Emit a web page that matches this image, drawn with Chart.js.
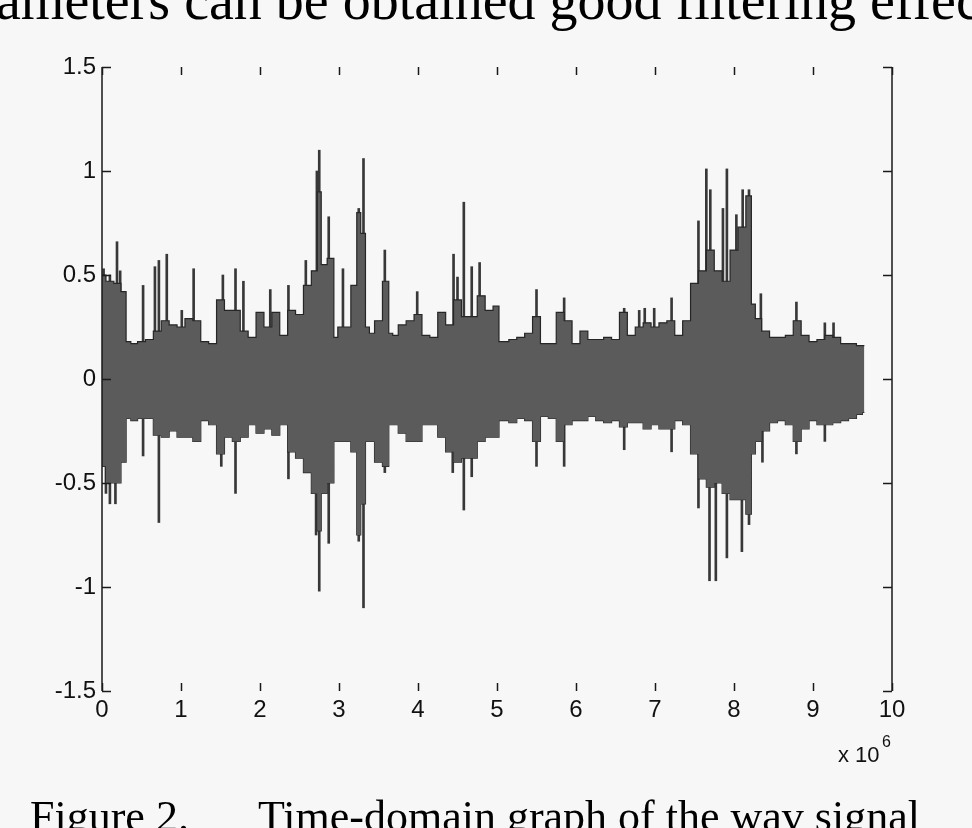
<!DOCTYPE html>
<html>
<head>
<meta charset="utf-8">
<title>Time-domain graph of the wav signal</title>
<script src="https://cdn.jsdelivr.net/npm/chart.js@4/dist/chart.umd.min.js"></script>
<style>
  html, body { margin: 0; padding: 0; background: #f7f7f7; }
  #wrap { position: relative; width: 972px; height: 828px; overflow: hidden; }
</style>
</head>
<body>
<div id="wrap"><canvas id="wave" width="972" height="828"></canvas></div>
<script>
// sample index in units of 10^6
const envX = [0, 0.1, 0.2, 0.28, 0.33, 0.4, 0.5, 0.6, 0.7, 0.8, 0.9, 1.0, 1.1, 1.2, 1.3, 1.4, 1.5, 1.6, 1.7, 1.8,
  1.9, 2.0, 2.1, 2.2, 2.3, 2.4, 2.5, 2.6, 2.7, 2.75, 2.8, 2.9, 2.97, 3.0, 3.1, 3.2, 3.25, 3.3, 3.37, 3.4,
  3.5, 3.6, 3.66, 3.7, 3.8, 3.9, 4.0, 4.1, 4.2, 4.3, 4.4, 4.5, 4.6, 4.7, 4.8, 4.9, 5.0, 5.05, 5.1, 5.2,
  5.3, 5.4, 5.5, 5.6, 5.7, 5.8, 5.9, 6.0, 6.1, 6.2, 6.3, 6.4, 6.5, 6.6, 6.7, 6.8, 6.9, 7.0, 7.1, 7.2,
  7.3, 7.4, 7.5, 7.6, 7.7, 7.8, 7.9, 8.0, 8.1, 8.2, 8.24, 8.3, 8.4, 8.5, 8.6, 8.7, 8.8, 8.9, 9.0, 9.1,
  9.2, 9.3, 9.4, 9.5, 9.6, 9.65];

// upper and lower edge of the dense signal body
const envUpper = [0.50, 0.47, 0.46, 0.42, 0.18, 0.17, 0.18, 0.19, 0.23, 0.28, 0.26, 0.25, 0.29, 0.28, 0.18, 0.17, 0.38, 0.33, 0.33, 0.23,
  0.20, 0.32, 0.25, 0.32, 0.21, 0.33, 0.31, 0.45, 0.52, 0.90, 0.55, 0.58, 0.20, 0.25, 0.25, 0.45, 0.80, 0.70, 0.25, 0.22,
  0.28, 0.47, 0.22, 0.21, 0.26, 0.28, 0.31, 0.21, 0.20, 0.32, 0.26, 0.38, 0.30, 0.30, 0.40, 0.33, 0.35, 0.18, 0.18, 0.19,
  0.20, 0.22, 0.30, 0.17, 0.17, 0.32, 0.28, 0.17, 0.23, 0.19, 0.19, 0.20, 0.19, 0.32, 0.21, 0.25, 0.27, 0.25, 0.27, 0.28,
  0.21, 0.28, 0.46, 0.52, 0.62, 0.52, 0.47, 0.62, 0.73, 0.88, 0.36, 0.29, 0.23, 0.20, 0.20, 0.21, 0.28, 0.21, 0.18, 0.19,
  0.21, 0.20, 0.17, 0.17, 0.16, 0.16];
const envLower = [-0.42, -0.50, -0.50, -0.40, -0.19, -0.20, -0.19, -0.19, -0.27, -0.28, -0.25, -0.28, -0.28, -0.30, -0.20, -0.22, -0.36, -0.28, -0.30, -0.28,
  -0.22, -0.26, -0.24, -0.27, -0.22, -0.35, -0.38, -0.45, -0.55, -0.73, -0.55, -0.50, -0.30, -0.30, -0.30, -0.35, -0.75, -0.60, -0.30, -0.30,
  -0.40, -0.42, -0.22, -0.22, -0.26, -0.30, -0.30, -0.22, -0.22, -0.28, -0.35, -0.40, -0.38, -0.38, -0.30, -0.28, -0.28, -0.20, -0.20, -0.21,
  -0.19, -0.20, -0.30, -0.18, -0.19, -0.30, -0.22, -0.20, -0.20, -0.18, -0.20, -0.21, -0.20, -0.23, -0.21, -0.21, -0.24, -0.22, -0.24, -0.24,
  -0.20, -0.22, -0.36, -0.48, -0.52, -0.50, -0.55, -0.58, -0.58, -0.65, -0.36, -0.30, -0.25, -0.21, -0.20, -0.22, -0.30, -0.24, -0.20, -0.22,
  -0.22, -0.21, -0.20, -0.19, -0.17, -0.16];

// thin peaks sticking out of the body
const upSpikeX = [0.02, 0.10, 0.19, 0.23, 0.52, 0.67, 0.72, 0.82, 1.01, 1.16, 1.53, 1.69, 1.79, 2.13, 2.36, 2.58, 2.72, 2.75, 2.87, 3.05,
  3.25, 3.31, 3.58, 3.99, 4.45, 4.50, 4.58, 4.68, 4.78, 5.50, 5.85, 6.61, 6.80, 6.87, 6.99, 7.21, 7.55, 7.65, 7.70, 7.86,
  7.91, 8.03, 8.11, 8.19, 8.34, 8.79, 9.15, 9.26];
const upSpikeY = [0.53, 0.50, 0.66, 0.52, 0.45, 0.54, 0.57, 0.60, 0.33, 0.53, 0.50, 0.53, 0.47, 0.43, 0.45, 0.57, 1.00, 1.10, 0.78, 0.53,
  0.82, 1.06, 0.62, 0.42, 0.60, 0.49, 0.85, 0.54, 0.56, 0.43, 0.39, 0.34, 0.33, 0.34, 0.34, 0.39, 0.76, 1.01, 0.91, 0.82,
  1.01, 0.79, 0.91, 0.91, 0.41, 0.37, 0.27, 0.27];
const downSpikeX = [0.05, 0.10, 0.17, 0.52, 0.72, 1.51, 1.69, 2.36, 2.71, 2.75, 2.87, 3.25, 3.31, 3.58, 4.44, 4.58, 4.68, 5.50, 5.85, 6.61,
  7.21, 7.55, 7.69, 7.77, 7.91, 8.10, 8.19, 8.36, 8.79, 9.15];
const downSpikeY = [-0.55, -0.60, -0.60, -0.37, -0.69, -0.42, -0.55, -0.48, -0.75, -1.02, -0.79, -0.78, -1.10, -0.45, -0.45, -0.63, -0.47, -0.42, -0.42, -0.34,
  -0.35, -0.62, -0.97, -0.97, -0.86, -0.83, -0.70, -0.40, -0.36, -0.30];

const xTicks = [0, 1, 2, 3, 4, 5, 6, 7, 8, 9, 10];
const xTickLabels = ['0', '1', '2', '3', '4', '5', '6', '7', '8', '9', '10'];
const yTicks = [-1.5, -1, -0.5, 0, 0.5, 1, 1.5];
const yTickLabels = ['-1.5', '-1', '-0.5', '0', '0.5', '1', '1.5'];

const topText = 'ameters can be obtained good filtering effec';
const captionLeft = 'Figure 2.';
const captionRight = 'Time-domain graph of the wav signal';

const bodyColor = '#5b5b5b';
const edgeColor = '#262626';
const tickFont = { family: '"Liberation Sans", Arial, sans-serif', size: 24 };

// MATLAB-style frame: side lines, inward ticks, exponent and the page text
const frame = {
  id: 'frame',
  afterDraw(chart) {
    const { ctx, chartArea: a, scales: { x, y } } = chart;
    ctx.save();
    ctx.strokeStyle = '#1a1a1a';
    ctx.lineWidth = 1.5;
    ctx.beginPath();
    ctx.moveTo(a.left, a.top); ctx.lineTo(a.left, a.bottom);
    ctx.moveTo(a.right, a.top); ctx.lineTo(a.right, a.bottom);
    xTicks.forEach(v => {
      const px = Math.round(x.getPixelForValue(v)) + 0.5;
      ctx.moveTo(px, a.bottom); ctx.lineTo(px, a.bottom - 8);
      ctx.moveTo(px, a.top); ctx.lineTo(px, a.top + 8);
    });
    yTicks.forEach(v => {
      const py = Math.round(y.getPixelForValue(v)) + 0.5;
      ctx.moveTo(a.left, py); ctx.lineTo(a.left + 9, py);
      ctx.moveTo(a.right, py); ctx.lineTo(a.right - 9, py);
    });
    ctx.stroke();

    ctx.fillStyle = '#111';
    ctx.textBaseline = 'alphabetic';
    ctx.textAlign = 'left';
    ctx.font = '22px "Liberation Sans", Arial, sans-serif';
    ctx.fillText('x 10', 838, 762);
    ctx.font = '16px "Liberation Sans", Arial, sans-serif';
    ctx.fillText('6', 882, 747);

    ctx.fillStyle = '#000';
    ctx.font = '56px "Liberation Serif", "Times New Roman", serif';
    ctx.fillText(topText, -4, 19);
    ctx.font = '44px "Liberation Serif", "Times New Roman", serif';
    ctx.fillText(captionLeft, 30, 831);
    ctx.fillText(captionRight, 258, 831);
    ctx.restore();
  }
};

const ctx = document.getElementById('wave').getContext('2d');
new Chart(ctx, {
  type: 'line',
  data: {
    datasets: [
      {
        data: envX.map((v, i) => ({ x: v, y: envUpper[i] })),
        borderColor: edgeColor,
        borderWidth: 1.2,
        backgroundColor: bodyColor,
        fill: '+1',
        stepped: 'middle',
        pointRadius: 0,
        order: 1
      },
      {
        data: envX.map((v, i) => ({ x: v, y: envLower[i] })),
        borderColor: edgeColor,
        borderWidth: 1.2,
        backgroundColor: bodyColor,
        fill: false,
        stepped: 'middle',
        pointRadius: 0,
        order: 1
      },
      {
        type: 'bar',
        data: upSpikeX.map((v, i) => ({ x: v, y: [0, upSpikeY[i]] })),
        backgroundColor: '#383838',
        barThickness: 2,
        grouped: false,
        order: 2
      },
      {
        type: 'bar',
        data: downSpikeX.map((v, i) => ({ x: v, y: [downSpikeY[i], 0] })),
        backgroundColor: '#383838',
        barThickness: 2,
        grouped: false,
        order: 2
      }
    ]
  },
  options: {
    responsive: false,
    animation: false,
    layout: { padding: { top: 67, right: 80, bottom: 0, left: 0 } },
    plugins: { legend: { display: false }, tooltip: { enabled: false } },
    scales: {
      x: {
        type: 'linear',
        min: 0,
        max: 10,
        offset: false,
        grid: { display: false, drawTicks: false },
        border: { display: false },
        afterFit: s => { s.height = 137; },
        afterBuildTicks: s => { s.ticks = xTicks.map(v => ({ value: v })); },
        ticks: {
          color: '#111',
          font: tickFont,
          padding: 5,
          maxRotation: 0,
          autoSkip: false,
          callback: v => xTickLabels[xTicks.indexOf(v)]
        }
      },
      y: {
        type: 'linear',
        min: -1.5,
        max: 1.5,
        grid: { display: false, drawTicks: false },
        border: { display: false },
        afterFit: s => { s.width = 102; },
        afterBuildTicks: s => { s.ticks = yTicks.map(v => ({ value: v })); },
        ticks: {
          color: '#111',
          font: tickFont,
          padding: 6,
          autoSkip: false,
          callback: v => yTickLabels[yTicks.indexOf(v)]
        }
      }
    }
  },
  plugins: [frame]
});
</script>
</body>
</html>
